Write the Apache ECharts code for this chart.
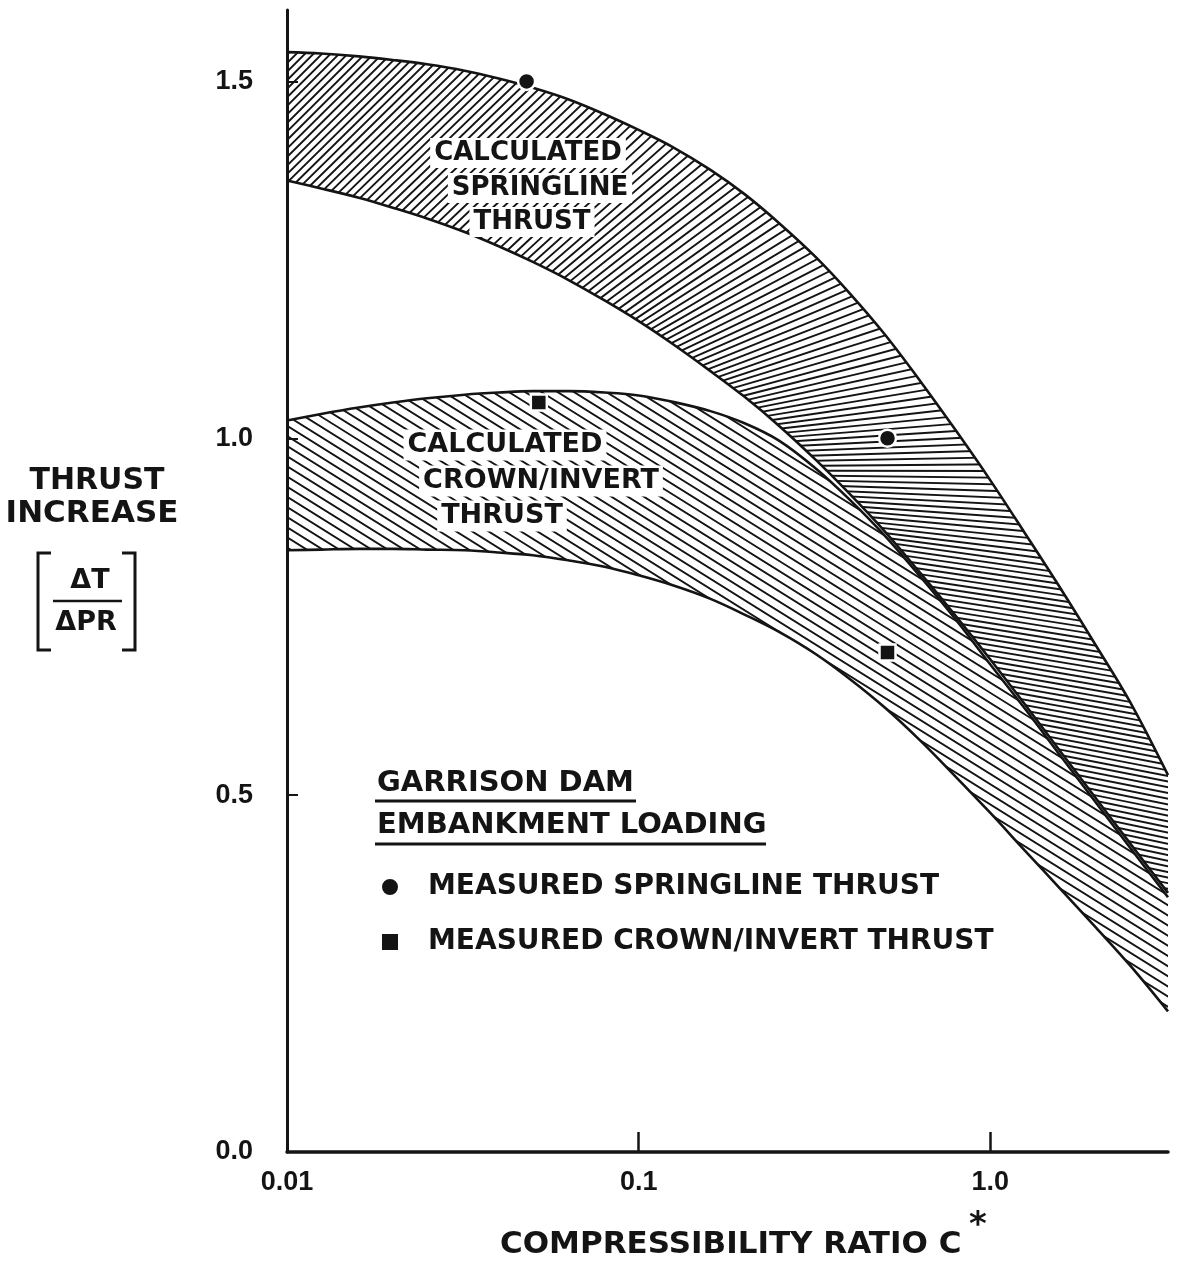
<!DOCTYPE html>
<html>
<head>
<meta charset="utf-8">
<script src="https://cdn.jsdelivr.net/npm/echarts@6/dist/echarts.min.js"></script>
<style>
  html, body { margin: 0; padding: 0; background: #fff; }
  #chart { width: 1177px; height: 1262px; }
</style>
</head>
<body>
<div id="chart"></div>
<script>
// Compressibility ratio C* at which the calculated bands are sampled (log axis, ~0.1 decade apart)
const ratio = [0.01, 0.0125, 0.016, 0.02, 0.025, 0.032, 0.04, 0.05, 0.063, 0.08,
               0.1, 0.125, 0.16, 0.2, 0.25, 0.32, 0.4, 0.5, 0.63, 0.8,
               1.0, 1.25, 1.6, 2.0, 2.5, 3.2];

// Calculated springline thrust band (upper / lower bound of ΔT/ΔPR)
const springUpper = [1.541, 1.539, 1.535, 1.530, 1.524, 1.515, 1.504, 1.491, 1.475, 1.454,
                     1.432, 1.408, 1.376, 1.342, 1.302, 1.253, 1.202, 1.146, 1.081, 1.010,
                     0.941, 0.868, 0.786, 0.709, 0.630, 0.528];
const springLower = [1.361, 1.350, 1.337, 1.323, 1.308, 1.289, 1.269, 1.247, 1.222, 1.193,
                     1.164, 1.132, 1.094, 1.058, 1.018, 0.969, 0.921, 0.870, 0.812, 0.750,
                     0.690, 0.628, 0.558, 0.495, 0.432, 0.363];

// Calculated crown/invert thrust band
const crownUpper = [1.025, 1.034, 1.043, 1.050, 1.056, 1.061, 1.064, 1.066, 1.066, 1.064,
                    1.060, 1.051, 1.038, 1.021, 0.997, 0.957, 0.913, 0.864, 0.807, 0.745,
                    0.683, 0.622, 0.552, 0.489, 0.426, 0.357];
const crownLower = [0.843, 0.844, 0.845, 0.845, 0.844, 0.843, 0.840, 0.836, 0.829, 0.820,
                    0.808, 0.794, 0.775, 0.753, 0.729, 0.697, 0.662, 0.623, 0.577, 0.525,
                    0.475, 0.423, 0.366, 0.314, 0.261, 0.197];

// Garrison Dam measurements [C*, ΔT/ΔPR]
const springMeasured = [[0.048, 1.50], [0.51, 1.00]];
const crownMeasured = [[0.052, 1.05], [0.51, 0.70]];

// Tick labels
const xTickValues = [0.01, 0.1, 1];
const xTickLabels = ['0.01', '0.1', '1.0'];
const yTickValues = [0, 0.5, 1.0, 1.5];
const yTickLabels = ['0.0', '0.5', '1.0', '1.5'];

const SPRING_NAME = 'MEASURED SPRINGLINE THRUST';
const CROWN_NAME = 'MEASURED CROWN/INVERT THRUST';

const INK = '#141414';
const LETTER = '"DejaVu Sans", "Noto Sans", sans-serif';
const W = 1177, H = 1262;

const chart = echarts.init(document.getElementById('chart'), null, { renderer: 'canvas' });

// Each boundary is a line filled down to the axis; the bands are stacked top to
// bottom, so a white fill under each lower bound closes the band above it.
function boundary(id, values, fill, z) {
  return {
    id: id, type: 'line', data: ratio.map((x, i) => [x, values[i]]),
    smooth: 0.35, symbol: 'none', silent: true, z: z,
    lineStyle: { color: INK, width: 2.6 },
    areaStyle: { color: fill, opacity: 1, origin: 'start' }
  };
}

function textEl(text, x, y, size, opts) {
  opts = opts || {};
  return {
    type: 'text', x: x, y: y, z: 100,
    style: Object.assign({
      text: text,
      font: 'bold ' + size + 'px ' + LETTER,
      fill: INK,
      align: opts.align || 'center', verticalAlign: 'middle',
      textAlign: opts.align || 'center', textVerticalAlign: 'middle'
    }, opts.halo ? { backgroundColor: '#fff', padding: [2, 4] } : {})
  };
}
function lineEl(x1, y1, x2, y2, w) {
  return { type: 'line', z: 100, shape: { x1, y1, x2, y2 }, style: { stroke: INK, lineWidth: w || 3 } };
}
function polyEl(points, w) {
  return { type: 'polyline', z: 100, shape: { points }, style: { stroke: INK, lineWidth: w || 3, fill: null } };
}

const option = {
  animation: false,
  backgroundColor: '#fff',
  grid: { left: 287, top: 10, width: 881, height: 1142 },
  xAxis: {
    type: 'log', logBase: 10, min: 0.01, max: 3.2, z: 10,
    axisLine: { lineStyle: { color: INK, width: 3.5 } },
    axisTick: { inside: true, length: 20, lineStyle: { color: INK, width: 2.5 }, customValues: [0.1, 1] },
    minorTick: { show: false },
    axisLabel: {
      customValues: xTickValues,
      formatter: (v) => xTickLabels[xTickValues.findIndex(t => Math.abs(Math.log10(t) - Math.log10(v)) < 1e-6)],
      margin: 17, color: INK,
      fontFamily: '"Liberation Sans", Arial, sans-serif', fontWeight: 'bold', fontSize: 27
    },
    splitLine: { show: false }
  },
  yAxis: {
    type: 'value', min: 0, max: 1.6, interval: 0.5, z: 10,
    axisLine: { show: true, lineStyle: { color: INK, width: 3 } },
    axisTick: { inside: true, length: 11, lineStyle: { color: INK, width: 2 }, customValues: [0.5, 1.0, 1.5] },
    axisLabel: {
      customValues: yTickValues,
      formatter: (v) => yTickLabels[yTickValues.findIndex(t => Math.abs(t - v) < 1e-6)],
      margin: 34, color: INK,
      fontFamily: '"Liberation Sans", Arial, sans-serif', fontWeight: 'bold', fontSize: 27
    },
    splitLine: { show: false }
  },
  legend: {
    orient: 'vertical', left: 375, top: 868, z: 50,
    itemWidth: 18, itemHeight: 18, itemGap: 27,
    selectedMode: false,
    textStyle: { fontFamily: LETTER, fontWeight: 'bold', fontSize: 28, color: INK, padding: [0, 0, 0, 24] },
    data: [SPRING_NAME, CROWN_NAME]
  },
  series: [
    boundary('springUpper', springUpper, 'rgba(0,0,0,0)', 2),
    boundary('springLower', springLower, '#fff', 3),
    boundary('crownUpper', crownUpper, 'rgba(0,0,0,0)', 4),
    boundary('crownLower', crownLower, '#fff', 5),
    {
      name: SPRING_NAME, type: 'scatter', data: springMeasured, z: 20,
      symbol: 'circle', symbolSize: 17,
      itemStyle: { color: INK, opacity: 1, borderColor: '#fff', borderWidth: 2.5 }
    },
    {
      name: CROWN_NAME, type: 'scatter', data: crownMeasured, z: 20,
      symbol: 'rect', symbolSize: 16,
      itemStyle: { color: INK, opacity: 1, borderColor: '#fff', borderWidth: 2.5 }
    }
  ],
  graphic: [
    // band captions
    textEl('CALCULATED', 528, 153, 26, { halo: true }),
    textEl('SPRINGLINE', 540, 188, 26, { halo: true }),
    textEl('THRUST', 532, 222, 26, { halo: true }),
    textEl('CALCULATED', 505, 445, 27, { halo: true }),
    textEl('CROWN/INVERT', 541, 481, 27, { halo: true }),
    textEl('THRUST', 502, 516, 27, { halo: true }),
    // legend heading
    textEl('GARRISON DAM', 377, 783, 29, { align: 'left' }),
    lineEl(375, 801, 636, 801, 3),
    textEl('EMBANKMENT LOADING', 377, 825, 29, { align: 'left' }),
    lineEl(375, 844, 766, 844, 3),
    // y-axis title
    textEl('THRUST', 97, 481, 30),
    textEl('INCREASE', 92, 514, 31),
    polyEl([[51, 553], [38, 553], [38, 650], [51, 650]], 3),
    polyEl([[122, 553], [135, 553], [135, 650], [122, 650]], 3),
    textEl('ΔT', 90, 581, 27),
    lineEl(53, 601, 122, 601, 2.5),
    textEl('ΔPR', 86, 623, 27),
    // x-axis title
    textEl('COMPRESSIBILITY RATIO C', 500, 1245, 31, { align: 'left' }),
    textEl('*', 978, 1226, 34)
  ]
};

chart.setOption(option);

// Hatch textures: springline hatch turns as the band bends, crown/invert hatch is straight
function canvasOf() {
  const c = document.createElement('canvas');
  c.width = W; c.height = H;
  return c;
}

function straightHatch(angleDeg, spacing, width) {
  const c = canvasOf(), ctx = c.getContext('2d');
  const t = angleDeg * Math.PI / 180;
  const dx = Math.cos(t), dy = -Math.sin(t);
  const nx = -dy, ny = dx;
  const R = Math.hypot(W, H);
  ctx.strokeStyle = INK; ctx.lineWidth = width;
  ctx.beginPath();
  for (let k = -R; k <= R; k += spacing) {
    const cx = W / 2 + nx * k, cy = H / 2 + ny * k;
    ctx.moveTo(cx - dx * R, cy - dy * R);
    ctx.lineTo(cx + dx * R, cy + dy * R);
  }
  ctx.stroke();
  return c;
}

// hatch angle (degrees, counter-clockwise) against horizontal screen position
const turnTable = [[287, 45], [580, 43], [700, 35], [800, 20], [890, 3], [980, -8], [1177, -12]];
function turnAngle(px) {
  if (px <= turnTable[0][0]) return turnTable[0][1];
  for (let i = 0; i < turnTable.length - 1; i++) {
    const a = turnTable[i], b = turnTable[i + 1];
    if (px <= b[0]) return a[1] + (b[1] - a[1]) * (px - a[0]) / (b[0] - a[0]);
  }
  return turnTable[turnTable.length - 1][1];
}

function turningHatch(path, step, width) {
  const c = canvasOf(), ctx = c.getContext('2d');
  const n = path.length;
  const segLen = [], cum = [0];
  for (let j = 0; j < n - 1; j++) {
    segLen.push(Math.hypot(path[j + 1][0] - path[j][0], path[j + 1][1] - path[j][1]));
    cum.push(cum[j] + segLen[j]);
  }
  const total = cum[n - 1];
  const along = (s) => {
    if (s <= 0 || s >= total) {
      const a = s <= 0 ? path[0] : path[n - 2], b = s <= 0 ? path[1] : path[n - 1];
      const L = Math.hypot(b[0] - a[0], b[1] - a[1]);
      const base = s <= 0 ? path[0] : path[n - 1];
      const d = s <= 0 ? s : s - total;
      return [base[0] + (b[0] - a[0]) / L * d, base[1] + (b[1] - a[1]) / L * d];
    }
    let j = 0;
    while (j < n - 2 && cum[j + 1] < s) j++;
    const f = (s - cum[j]) / segLen[j];
    return [path[j][0] + f * (path[j + 1][0] - path[j][0]), path[j][1] + f * (path[j + 1][1] - path[j][1])];
  };
  ctx.strokeStyle = INK; ctx.lineWidth = width;
  ctx.beginPath();
  for (let s = -260; s <= total + 260; s += step) {
    const p = along(s);
    const th = turnAngle(p[0]) * Math.PI / 180;
    const ux = Math.cos(th), uy = -Math.sin(th);
    ctx.moveTo(p[0] - ux * 240, p[1] - uy * 240);
    ctx.lineTo(p[0] + ux * 240, p[1] + uy * 240);
  }
  ctx.stroke();
  return c;
}

const springMid = ratio.map((x, i) =>
  chart.convertToPixel({ gridIndex: 0 }, [x, (springUpper[i] + springLower[i]) / 2]));

chart.setOption({
  series: [
    { id: 'springUpper', areaStyle: { color: { image: turningHatch(springMid, 7.6, 1.9), repeat: 'no-repeat' } } },
    { id: 'crownUpper', areaStyle: { color: { image: straightHatch(-32, 8.6, 1.9), repeat: 'no-repeat' } } }
  ]
});
</script>
</body>
</html>
